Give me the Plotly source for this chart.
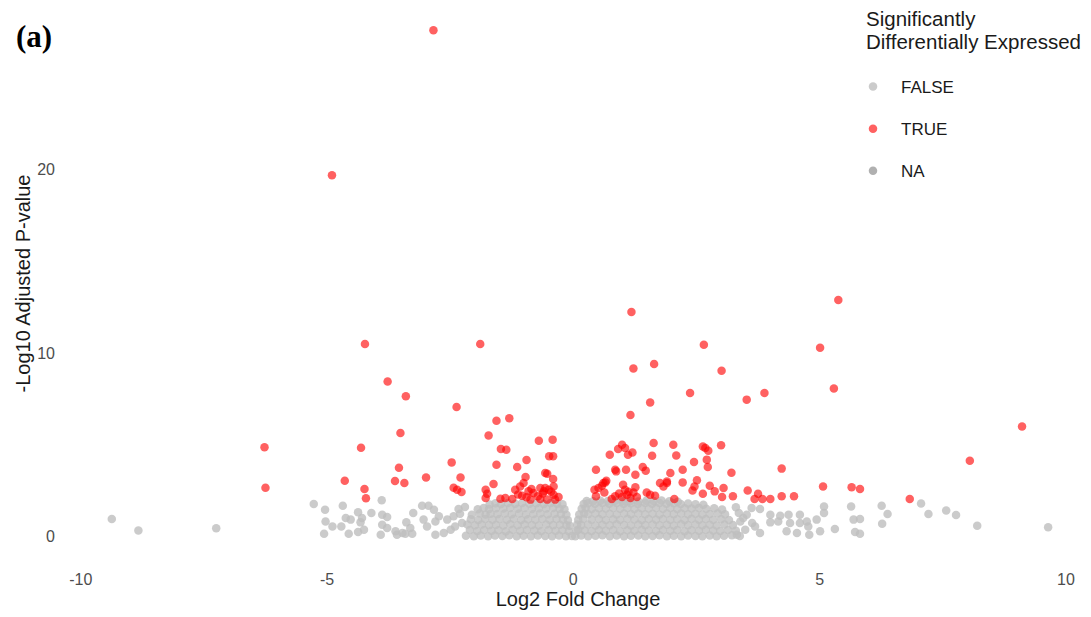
import plotly.graph_objects as go

# Significant genes (TRUE): log2 fold change, -log10 adjusted p-value
sig_lfc = [
    -2.84, -4.90, 5.38, 1.18, -4.23, -1.89, 2.65, 5.01, 1.22, 1.64, 3.01, 5.29,
    -3.77, -3.40, 2.37, 3.52, 3.88, 1.56, -2.37, 1.16, -1.56, -1.30, -3.51, -1.72,
    -0.70, -0.42, -6.27, -4.31, -1.47, -1.36, -0.49, -0.41, -0.95, -2.47, -1.56, -1.14,
    -3.54, -0.57, -0.53, -0.41, -2.29, -0.97, -2.99, -4.64, -3.62, -3.43, -6.25, -4.24,
    -4.21, -1.62, -1.01, -2.43, -2.36, -2.27, -1.78, -1.75, -1.78, -1.18, -1.08, -0.91,
    -0.81, -0.67, -0.57, -0.60, -0.50, -0.40, -0.40, -1.48, -1.38, -1.24, -1.04, -0.87,
    -0.67, -0.53, -0.37, -0.30, -0.62, -0.72, -0.45, -0.85, -1.12, -0.95,
    0.99, 0.91, 1.05, 1.11, 1.20, 0.74, 1.63, 1.60, 2.03, 2.09, 2.63, 2.68,
    2.74, 3.00, 2.45, 2.71, 2.73, 0.46, 0.85, 0.87, 1.07, 1.26, 1.41, 1.47,
    1.97, 2.22, 3.21, 0.67, 0.61, 0.58, 0.51, 0.43, 0.63, 0.46, 1.01, 1.26,
    1.05, 1.22, 1.09, 0.99, 0.85, 1.16, 1.29, 1.49, 1.56, 1.66, 1.76, 1.90,
    1.83, 1.90, 2.22, 2.51, 2.46, 2.42, 2.77, 2.87, 2.63, 3.05, 3.02, 3.24,
    2.05, 4.23, 3.54, 3.75, 3.68, 3.84, 4.00, 4.23, 4.48, 5.07, 5.65, 5.82,
    9.11, 8.05, 6.83, 0.78, 1.12, 0.93, 0.65,
]
sig_padj = [
    27.60, 19.70, 12.90, 12.25, 10.50, 10.50, 10.46, 10.30, 9.17, 9.41, 9.05, 8.08,
    8.46, 7.65, 7.83, 7.47, 7.83, 7.32, 7.07, 6.63, 6.32, 6.45, 5.65, 5.52,
    5.23, 5.29, 4.87, 4.85, 4.78, 4.74, 4.38, 4.38, 4.18, 4.05, 3.92, 3.80,
    3.76, 3.47, 3.43, 3.14, 3.23, 3.25, 3.23, 3.05, 3.03, 2.93, 2.67, 2.60,
    2.09, 2.87, 2.92, 2.67, 2.56, 2.44, 2.56, 2.34, 2.11, 2.56, 2.74, 2.47,
    2.38, 2.65, 2.65, 2.47, 2.56, 2.74, 2.29, 2.07, 2.11, 2.05, 2.23, 2.02,
    2.05, 2.02, 2.02, 2.16, 2.35, 2.20, 2.45, 2.60, 2.30, 2.15,
    5.01, 4.78, 4.83, 4.47, 4.59, 4.47, 5.11, 4.41, 5.01, 4.43, 4.92, 4.83,
    4.69, 4.98, 4.07, 4.20, 3.80, 3.65, 3.65, 3.56, 3.65, 3.38, 3.80, 3.60,
    3.47, 3.65, 3.49, 3.05, 2.93, 2.78, 2.65, 2.56, 2.41, 2.20, 2.83, 2.69,
    2.56, 2.41, 2.29, 2.16, 2.20, 2.11, 2.16, 2.41, 2.29, 2.23, 2.93, 2.93,
    2.74, 3.01, 2.96, 3.07, 2.74, 2.52, 2.78, 2.47, 2.34, 2.65, 2.16, 2.20,
    2.05, 3.71, 2.52, 2.34, 2.05, 2.05, 2.05, 2.20, 2.20, 2.74, 2.69, 2.60,
    6.01, 4.14, 2.05, 2.05, 2.45, 2.35, 2.96,
]

# Non-significant genes (FALSE): sparse outliers, then the dense core band by band
ns_genes = [
    # far tails
    (-9.37, 0.96), (-8.83, 0.34), (-7.25, 0.46),
    (-5.27, 1.78), (-5.04, 1.47), (-4.68, 1.69), (-5.03, 0.83), (-4.89, 0.56), (-5.06, 0.16),
    (-4.71, 0.56), (-4.62, 1.02), (-4.52, 0.93), (-4.37, 1.33), (-4.29, 1.02), (-4.32, 0.78),
    (-4.25, 0.38), (-4.37, 0.26), (-4.56, 0.16), (-4.10, 1.29), (-3.89, 1.98), (-3.88, 1.20),
    (-3.78, 1.07), (-3.88, 0.65), (-3.78, 0.47), (-3.91, 0.11), (-3.61, 0.29), (-3.47, 0.20),
    (-3.58, 0.11), (-3.41, 0.16), (-3.31, 0.47), (-3.27, 0.16), (-3.39, 0.78), (-3.25, 1.29),
    (-3.07, 1.69), (-2.94, 1.69), (-2.83, 1.47), (-3.04, 0.93), (-2.97, 0.56), (-2.80, 0.83),
    (-2.73, 1.11), (-2.80, 0.11), (-2.63, 0.20), (-2.49, 0.38), (-2.56, 0.93), (-2.43, 1.11),
    (-2.33, 1.51), (-2.26, 0.74), (-2.40, 0.55), (-2.30, 1.25), (-2.20, 1.62),
    (3.36, 1.29), (3.52, 1.20), (3.39, 0.83), (3.63, 0.74), (3.49, 0.38), (3.79, 0.20),
    (3.69, 0.56), (3.32, 0.11), (3.62, 1.56), (3.79, 1.51), (3.30, 1.60), (3.45, 1.02),
    (4.00, 1.20), (4.20, 1.14), (4.37, 1.20), (4.60, 1.20), (4.00, 0.78), (4.16, 0.83),
    (4.40, 0.74), (4.60, 0.74), (4.74, 0.83), (4.94, 0.93), (5.09, 1.65), (5.09, 1.29),
    (4.77, 0.56), (4.33, 0.29), (4.54, 0.20), (4.79, 0.11), (5.01, 0.29), (5.31, 0.42),
    (5.64, 1.65), (5.69, 0.93), (5.82, 0.96), (5.72, 0.26), (5.82, 0.16), (6.26, 1.69),
    (6.38, 1.24), (6.27, 0.71), (7.06, 1.81), (7.21, 1.24), (7.57, 1.43), (7.77, 1.18),
    (8.20, 0.60), (9.64, 0.51),
    # core, lowest band
    (-2.18, 0.05), (-2.02, 0.03), (-1.88, 0.07), (-1.73, 0.02), (-1.59, 0.06), (-1.44, 0.04),
    (-1.30, 0.08), (-1.15, 0.03), (-1.01, 0.05), (-0.86, 0.02), (-0.72, 0.07), (-0.57, 0.04),
    (-0.43, 0.03), (-0.29, 0.06), (-0.15, 0.02), (-0.03, 0.04), (0.04, 0.03), (0.16, 0.06),
    (0.30, 0.02), (0.45, 0.05), (0.59, 0.08), (0.74, 0.03), (0.88, 0.06), (1.03, 0.02),
    (1.17, 0.05), (1.32, 0.07), (1.46, 0.03), (1.61, 0.04), (1.75, 0.08), (1.90, 0.02),
    (2.04, 0.05), (2.19, 0.03), (2.33, 0.07), (2.48, 0.04), (2.62, 0.02), (2.77, 0.06),
    (2.91, 0.03), (3.06, 0.05), (3.22, 0.08), (3.38, 0.04),
    # core, band 2
    (-2.10, 0.36), (-1.95, 0.31), (-1.81, 0.37), (-1.66, 0.33), (-1.52, 0.35), (-1.37, 0.30),
    (-1.23, 0.38), (-1.08, 0.32), (-0.94, 0.36), (-0.79, 0.34), (-0.65, 0.31), (-0.50, 0.37),
    (-0.36, 0.33), (-0.22, 0.35), (-0.09, 0.30), (0.06, 0.32), (0.10, 0.38), (0.23, 0.34),
    (0.37, 0.31), (0.52, 0.36), (0.66, 0.33), (0.81, 0.37), (0.95, 0.30), (1.10, 0.35),
    (1.24, 0.32), (1.39, 0.38), (1.53, 0.34), (1.68, 0.31), (1.82, 0.36), (1.97, 0.33),
    (2.11, 0.37), (2.26, 0.30), (2.40, 0.35), (2.55, 0.32), (2.69, 0.38), (2.84, 0.34),
    (2.98, 0.31), (3.14, 0.36), (3.30, 0.33),
    # core, band 3
    (-2.15, 0.66), (-2.00, 0.62), (-1.86, 0.67), (-1.71, 0.63), (-1.57, 0.65), (-1.42, 0.61),
    (-1.28, 0.68), (-1.13, 0.62), (-0.99, 0.66), (-0.84, 0.64), (-0.70, 0.61), (-0.55, 0.67),
    (-0.41, 0.63), (-0.27, 0.65), (-0.14, 0.62), (-0.07, 0.60), (0.08, 0.66), (0.16, 0.63),
    (0.30, 0.67), (0.45, 0.61), (0.59, 0.65), (0.74, 0.62), (0.88, 0.68), (1.03, 0.64),
    (1.17, 0.61), (1.32, 0.66), (1.46, 0.63), (1.61, 0.67), (1.75, 0.62), (1.90, 0.65),
    (2.04, 0.61), (2.19, 0.68), (2.33, 0.63), (2.48, 0.66), (2.62, 0.62), (2.77, 0.65),
    (2.91, 0.61), (3.07, 0.67), (3.24, 0.63),
    # core, band 4
    (-2.08, 0.95), (-1.93, 0.91), (-1.79, 0.97), (-1.64, 0.93), (-1.50, 0.96), (-1.35, 0.92),
    (-1.21, 0.98), (-1.06, 0.91), (-0.92, 0.95), (-0.77, 0.93), (-0.63, 0.97), (-0.48, 0.92),
    (-0.34, 0.96), (-0.21, 0.94), (-0.11, 0.90), (0.10, 0.92), (0.20, 0.96), (0.37, 0.93),
    (0.52, 0.97), (0.66, 0.91), (0.81, 0.95), (0.95, 0.92), (1.10, 0.98), (1.24, 0.94),
    (1.39, 0.91), (1.53, 0.96), (1.68, 0.93), (1.82, 0.97), (1.97, 0.92), (2.11, 0.95),
    (2.26, 0.91), (2.40, 0.98), (2.55, 0.93), (2.69, 0.96), (2.84, 0.92), (3.00, 0.95),
    (3.16, 0.91),
    # core, band 5
    (-2.06, 1.19), (-1.90, 1.26), (-1.78, 1.21), (-1.68, 1.25), (-1.54, 1.23), (-1.39, 1.27),
    (-1.25, 1.22), (-1.10, 1.26), (-0.96, 1.21), (-0.81, 1.24), (-0.67, 1.27), (-0.52, 1.22),
    (-0.38, 1.25), (-0.25, 1.23), (-0.14, 1.20), (0.12, 1.21), (0.22, 1.26), (0.30, 1.23),
    (0.45, 1.27), (0.59, 1.22), (0.74, 1.25), (0.88, 1.21), (1.03, 1.26), (1.17, 1.23),
    (1.32, 1.27), (1.46, 1.22), (1.61, 1.25), (1.75, 1.21), (1.90, 1.26), (2.04, 1.23),
    (2.19, 1.27), (2.33, 1.22), (2.48, 1.25), (2.62, 1.21), (2.77, 1.24), (2.93, 1.27),
    (3.08, 1.22),
    # core, band 6
    (-1.94, 1.49), (-1.82, 1.56), (-1.71, 1.51), (-1.57, 1.55), (-1.42, 1.53), (-1.28, 1.57),
    (-1.13, 1.52), (-0.99, 1.56), (-0.84, 1.51), (-0.70, 1.55), (-0.55, 1.53), (-0.41, 1.57),
    (-0.28, 1.52), (-0.18, 1.50), (0.17, 1.52), (0.25, 1.56), (0.37, 1.51), (0.52, 1.55),
    (0.66, 1.53), (0.81, 1.57), (0.95, 1.52), (1.10, 1.56), (1.24, 1.51), (1.39, 1.55),
    (1.53, 1.53), (1.68, 1.57), (1.82, 1.52), (1.97, 1.56), (2.11, 1.51), (2.26, 1.55),
    (2.40, 1.53), (2.55, 1.57), (2.70, 1.52), (2.86, 1.55), (3.02, 1.48),
    # core, band 7
    (-1.70, 1.76), (-1.58, 1.82), (-1.47, 1.78), (-1.33, 1.83), (-1.18, 1.80), (-1.04, 1.84),
    (-0.89, 1.79), (-0.75, 1.82), (-0.60, 1.78), (-0.46, 1.83), (-0.33, 1.80), (-0.22, 1.77),
    (0.21, 1.78), (0.30, 1.82), (0.44, 1.79), (0.59, 1.83), (0.73, 1.80), (0.88, 1.84),
    (1.02, 1.79), (1.17, 1.82), (1.31, 1.78), (1.46, 1.83), (1.60, 1.80), (1.75, 1.84),
    (1.89, 1.79), (2.04, 1.82), (2.18, 1.78), (2.33, 1.81), (2.48, 1.77), (2.64, 1.74),
    # core, top band on the up-regulated side
    (0.27, 1.95), (0.40, 1.93), (0.55, 1.96), (0.70, 1.94), (0.86, 1.97), (1.01, 1.93),
    (1.16, 1.95), (1.32, 1.92), (1.48, 1.96), (1.63, 1.94), (1.79, 1.97), (1.95, 1.93),
    (2.12, 1.90),
]
ns_lfc = [g[0] for g in ns_genes]
ns_padj = [g[1] for g in ns_genes]

x_ticks = [-10, -5, 0, 5, 10]
x_tick_text = ["-10", "-5", "0", "5", "10"]
y_ticks = [0, 10, 20]
legend_title_lines = ["Significantly", "Differentially Expressed"]

fig = go.Figure()
fig.add_trace(go.Scatter(
    x=ns_lfc, y=ns_padj, mode="markers", name="FALSE", legendgroup="FALSE",
    marker=dict(size=8.5, color="rgba(190,190,190,0.8)", line=dict(width=0)),
    hoverinfo="skip",
))
fig.add_trace(go.Scatter(
    x=sig_lfc, y=sig_padj, mode="markers", name="TRUE", legendgroup="TRUE",
    marker=dict(size=8.5, color="rgba(255,0,0,0.62)", line=dict(width=0)),
    hoverinfo="skip",
))
fig.add_trace(go.Scatter(
    x=[None], y=[None], mode="markers", name="NA", legendgroup="NA",
    marker=dict(size=8.5, color="rgba(127,127,127,0.62)", line=dict(width=0)),
))

font_family = "Liberation Sans, Arial, sans-serif"
pl, pt, pb = 65, 5, 55
pw, ph = 1091 - pl, 617 - pt - pb


def px_x(px):
    return (px - pl) / pw


def px_y(py):
    return (617 - pb - py) / ph


annotations = [
    dict(text="<b>(a)</b>", xref="paper", yref="paper", x=px_x(14), y=px_y(37),
         xanchor="left", yanchor="middle", showarrow=False,
         font=dict(family="Liberation Serif, Times New Roman, serif", size=31, color="#000000")),
]
# legend heading, one annotation per line for tighter leading
for line, cy in zip(legend_title_lines, [18, 42]):
    annotations.append(dict(
        text=line, xref="paper", yref="paper", x=px_x(864), y=px_y(cy),
        xanchor="left", yanchor="middle", showarrow=False,
        font=dict(family=font_family, size=20.5, color="#1a1a1a"),
    ))

fig.update_layout(
    width=1091, height=617,
    margin=dict(l=pl, r=0, t=pt, b=pb, autoexpand=False),
    paper_bgcolor="white", plot_bgcolor="white",
    font=dict(family=font_family, color="#1a1a1a"),
    xaxis=dict(
        range=[-10.32, 10.51], tickvals=x_ticks, ticktext=x_tick_text, ticks="",
        showgrid=False, zeroline=False, showline=False, ticklabelstandoff=6,
        tickfont=dict(size=16, color="#4d4d4d"),
        title=dict(text="Log2 Fold Change", font=dict(size=20, color="#1a1a1a"), standoff=4),
    ),
    yaxis=dict(
        range=[-1.38, 28.98], tickvals=y_ticks, ticks="", showgrid=False,
        zeroline=False, showline=False, ticklabelstandoff=9,
        tickfont=dict(size=16, color="#4d4d4d"),
        title=dict(text="-Log10 Adjusted P-value", font=dict(size=20, color="#1a1a1a"), standoff=1),
    ),
    legend=dict(
        x=px_x(845), y=px_y(69), xanchor="left", yanchor="top",
        itemwidth=46, traceorder="grouped", tracegroupgap=17,
        font=dict(size=17, color="#1a1a1a"), bgcolor="rgba(0,0,0,0)",
    ),
    showlegend=True,
    annotations=annotations,
)

fig.write_html("out.html")
